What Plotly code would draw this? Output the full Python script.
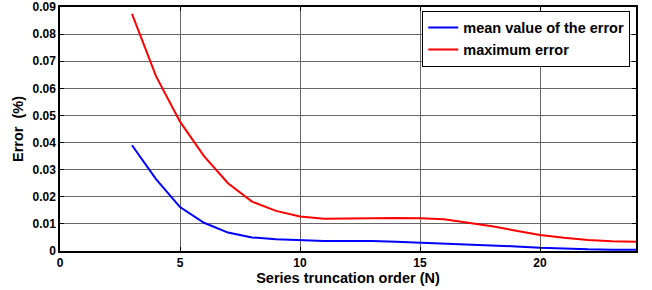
import plotly.graph_objects as go

N = [3, 4, 5, 6, 7, 8, 9, 10, 11, 12, 13, 14, 15, 16, 17, 18, 19, 20, 21, 22, 23, 24]
mean_err = [0.039, 0.0265, 0.0162, 0.0104, 0.0068, 0.005, 0.0043, 0.004, 0.0037, 0.0037, 0.0037,
            0.0034, 0.0031, 0.0028, 0.0024, 0.002, 0.0017, 0.0012, 0.0008, 0.0006, 0.0005, 0.0005]
max_err = [0.0875, 0.0645, 0.0477, 0.035, 0.025, 0.0182, 0.0148, 0.0127, 0.0119, 0.012, 0.0122,
           0.0122, 0.0121, 0.0117, 0.0104, 0.0091, 0.0075, 0.0059, 0.0049, 0.0041, 0.0036, 0.0034]
x_ticks = [0, 5, 10, 15, 20]
y_ticks = [0, 0.01, 0.02, 0.03, 0.04, 0.05, 0.06, 0.07, 0.08, 0.09]

fig = go.Figure()
fig.add_trace(go.Scatter(x=N, y=mean_err, mode="lines", name="mean value of the error",
                         line=dict(color="#0000ff", width=2)))
fig.add_trace(go.Scatter(x=N, y=max_err, mode="lines", name="maximum error",
                         line=dict(color="#ff0000", width=2)))

font_fam = "Liberation Sans, Arial, sans-serif"
fig.update_layout(
    width=652, height=290,
    margin=dict(l=60, r=16, t=7, b=39),
    paper_bgcolor="white", plot_bgcolor="white",
    font=dict(family=font_fam, color="black", size=12),
    showlegend=True,
    legend=dict(x=0.99, y=0.985, xanchor="right", yanchor="top",
                bordercolor="black", borderwidth=1, bgcolor="white",
                font=dict(family=font_fam, size=14.5, color="black", weight="bold"),
                tracegroupgap=0, itemwidth=30),
)
fig.update_xaxes(range=[0, 24], tickvals=x_ticks, ticktext=[str(v) for v in x_ticks],
                 showgrid=True, gridcolor="#666666", gridwidth=1,
                 showline=True, linecolor="black", linewidth=1.5, mirror="ticks",
                 ticks="inside", ticklen=4, tickcolor="black",
                 tickfont=dict(family=font_fam, size=12, weight="bold"),
                 title=dict(text="Series truncation order (N)", standoff=1,
                            font=dict(family=font_fam, size=14.5, weight="bold")),
                 zeroline=False, automargin=False)
fig.update_yaxes(range=[0, 0.09], tickvals=y_ticks, ticktext=["0"] + [f"{v:.2f}" for v in y_ticks[1:]],
                 showgrid=True, gridcolor="#666666", gridwidth=1,
                 showline=True, linecolor="black", linewidth=1.5, mirror="ticks",
                 ticks="inside", ticklen=4, tickcolor="black",
                 tickfont=dict(family=font_fam, size=12, weight="bold"),
                 title=dict(text="Error  (%)", standoff=5,
                            font=dict(family=font_fam, size=14.5, weight="bold")),
                 zeroline=False, automargin=False)

fig.write_html("out.html", config={"displayModeBar": False},
               post_script="document.body.style.margin='0';")
